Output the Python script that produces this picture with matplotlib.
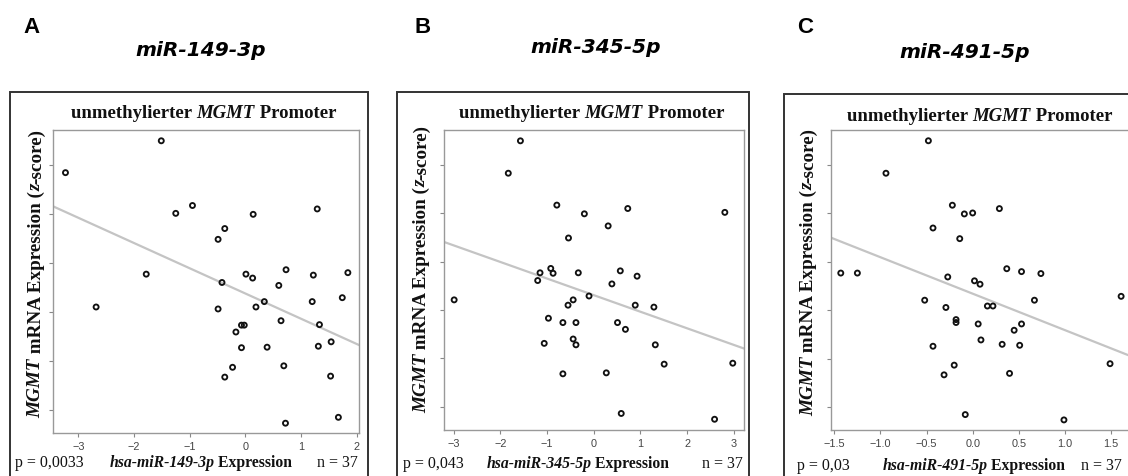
import matplotlib
matplotlib.use("Agg")
import matplotlib.pyplot as plt
import numpy as np
from matplotlib.patches import Rectangle

# ---------------- data ----------------
mir_names = ["miR-149-3p", "miR-345-5p", "miR-491-5p"]
panel_letters = ["A", "B", "C"]
p_values = ["p = 0,0033", "p = 0,043", "p = 0,03"]
n_labels = ["n = 37", "n = 37", "n = 37"]

x_a = [-3.23, -1.51, -2.68, -1.78, -1.25, -0.95, -0.37, -0.49, -0.42, -0.49,
       0.14, 0.01, 0.13, -0.07, -0.02, -0.17, -0.07, -0.23, -0.37, 0.19,
       0.34, 0.39, 0.60, 0.73, 0.64, 0.69, 0.72, 1.29, 1.22, 1.20,
       1.33, 1.31, 1.54, 1.53, 1.67, 1.74, 1.84]
y_a = [2.84, 3.49, 0.10, 0.77, 2.01, 2.17, 1.70, 1.48, 0.60, 0.06,
       1.99, 0.77, 0.69, -0.27, -0.27, -0.41, -0.73, -1.13, -1.33, 0.10,
       0.21, -0.72, 0.54, 0.86, -0.18, -1.10, -2.27, 2.10, 0.75, 0.21,
       -0.26, -0.70, -0.61, -1.31, -2.15, 0.29, 0.80]

x_b = [-2.99, -1.83, -1.57, -0.79, -1.20, -1.15, -0.92, -0.87, -0.97, -1.06,
       -0.66, -0.66, -0.54, -0.55, -0.44, -0.44, -0.38, -0.38, -0.33, -0.20,
       -0.10, 0.31, 0.27, 0.39, 0.57, 0.73, 0.51, 0.68, 0.59, 0.89,
       0.93, 1.29, 1.32, 1.51, 2.59, 2.81, 2.98]
y_b = [0.21, 2.83, 3.50, 2.17, 0.61, 0.77, 0.86, 0.76, -0.17, -0.69,
       -0.26, -1.32, 1.49, 0.10, 0.21, -0.60, -0.72, -0.26, 0.77, 1.99,
       0.29, 1.74, -1.30, 0.54, 0.81, 2.10, -0.26, -0.40, -2.14, 0.10,
       0.70, 0.06, -0.72, -1.12, -2.26, 2.02, -1.10]

x_c = [-1.43, -1.25, -0.94, -0.48, -0.52, -0.43, -0.43, -0.27, -0.29, -0.31,
       -0.22, -0.20, -0.18, -0.18, -0.14, -0.09, -0.08, 0.00, 0.02, 0.08,
       0.06, 0.09, 0.16, 0.22, 0.29, 0.32, 0.37, 0.40, 0.45, 0.53,
       0.53, 0.51, 0.67, 0.74, 0.99, 1.49, 1.61]
y_c = [0.77, 0.77, 2.83, 3.50, 0.21, 1.70, -0.74, 0.69, 0.06, -1.33,
       2.17, -1.13, -0.19, -0.25, 1.48, 1.99, -2.15, 2.01, 0.61, 0.54,
       -0.28, -0.61, 0.09, 0.09, 2.10, -0.70, 0.86, -1.30, -0.41, 0.80,
       -0.28, -0.72, 0.21, 0.76, -2.26, -1.10, 0.29]

fit_slopes = [-0.515, -0.343, -0.752]
fit_intercepts = [0.375, 0.308, 0.345]

x_ticks_a = [-3, -2, -1, 0, 1, 2]
x_ticks_b = [-3, -2, -1, 0, 1, 2, 3]
x_ticks_c = [-1.5, -1.0, -0.5, 0.0, 0.5, 1.0, 1.5]
y_ticks = [-2, -1, 0, 1, 2, 3]

xs = [x_a, x_b, x_c]
ys = [y_a, y_b, y_c]
xticks = [x_ticks_a, x_ticks_b, x_ticks_c]

# ---------------- layout (pixels) ----------------
W, H = 1128, 477
fig = plt.figure(figsize=(W / 100, H / 100), dpi=100)
renderer = fig.canvas.get_renderer()

def fx(x):
    return x / W

def fy(y):
    return 1 - y / H

axes_px = [(53, 131, 359, 434), (443.7, 131, 744.3, 430.7), (831, 131, 1132, 430.7)]
xlims = [(-3.454, 2.04), (-3.214, 3.227), (-1.536, 1.728)]
ylims = [(-2.47, 3.71), (-2.476, 3.724), (-2.462, 3.722)]
xtick_fmt = ["{:.0f}", "{:.0f}", "{:.1f}"]
box_px = [(10, 93), (396.7, 93), (784.3, 95)]
box_right = [368, 749.3, 1140]
letter_pos = [(23, 33), (414, 33), (797, 33)]
mir_pos = [(201, 55.5), (596, 53.3), (965, 58.3)]
title_pos = [(203.8, 118.3), (591.5, 118.3), (979.8, 120.7)]
ylabel_pos = [(40.7, 273.3), (426, 269), (813, 272)]
xlabel_pos = [(201, 466.7), (577.8, 467.7), (973.7, 470)]
p_pos = [(15, 466.7), (403, 467.7), (797, 470)]
n_pos = [(358, 466.7), (742.7, 467.7), (1122, 470)]

SERIF = "Liberation Serif"
SANS = "Liberation Sans"

def seg_width(s, size, **kw):
    t1 = fig.text(0, 0, "|" + s + "|", fontsize=size, **kw)
    t2 = fig.text(0, 0, "||", fontsize=size, **kw)
    w = t1.get_window_extent(renderer).width - t2.get_window_extent(renderer).width
    t1.remove(); t2.remove()
    return w

def rich(x, y, parts, size, align="center", rotation=0, color="#111111"):
    widths = [seg_width(s, size, **kw) for s, kw in parts]
    total = sum(widths)
    if rotation == 0:
        cur = x - total / 2 if align == "center" else (x if align == "left" else x - total)
        for (s, kw), w in zip(parts, widths):
            fig.text(fx(cur), fy(y), s, fontsize=size, ha="left", va="baseline",
                     color=color, **kw)
            cur += w
    else:
        cur = (H - y) - total / 2
        for (s, kw), w in zip(parts, widths):
            fig.text(fx(x), cur / H, s, fontsize=size, ha="left", va="baseline",
                     rotation=90, rotation_mode="anchor", color=color, **kw)
            cur += w

B = dict(family=SERIF, weight="bold")
BI = dict(family=SERIF, weight="bold", style="italic")
R = dict(family=SERIF)

for i in range(3):
    l, t, r, b = axes_px[i]
    ax = fig.add_axes([fx(l), fy(b), (r - l) / W, (b - t) / H])
    ax.set_xlim(*xlims[i])
    ax.set_ylim(*ylims[i])
    ax.scatter(xs[i], ys[i], s=13, facecolors="none", edgecolors="#111111",
               linewidths=1.35, zorder=3)
    xl = np.array(xlims[i])
    ax.plot(xl, fit_intercepts[i] + fit_slopes[i] * xl, color="#c4c4c4", lw=1.6, zorder=2)
    ax.set_xticks(xticks[i])
    ax.set_xticklabels([xtick_fmt[i].format(v).replace("-", "\u2212") for v in xticks[i]],
                       family=SANS, fontsize=7.8, color="#444444")
    ax.set_yticks(y_ticks)
    ax.set_yticklabels([])
    ax.tick_params(direction="out", length=3, width=0.8, color="#888888", pad=3)
    for sp in ax.spines.values():
        sp.set_color("#999999")
        sp.set_linewidth(1.0)

    bx, by = box_px[i]
    fig.patches.append(Rectangle((fx(bx), fy(H + 20)), (box_right[i] - bx) / W,
                                 (H + 20 - by) / H, transform=fig.transFigure,
                                 fill=False, edgecolor="#333333", lw=1.4))

    fig.text(fx(letter_pos[i][0]), fy(letter_pos[i][1]), panel_letters[i],
             family=SANS, weight="bold", fontsize=16, ha="left", va="baseline")
    fig.text(fx(mir_pos[i][0]), fy(mir_pos[i][1]), mir_names[i],
             family="DejaVu Sans", weight="bold", style="italic", fontsize=14.5,
             ha="center", va="baseline")

    rich(title_pos[i][0], title_pos[i][1],
         [("unmethylierter ", B), ("MGMT", BI), (" Promoter", B)], 13.5)
    rich(ylabel_pos[i][0], ylabel_pos[i][1],
         [("MGMT", BI), (" mRNA Expression (", B), ("z", BI), ("-score)", B)], 13.8,
         rotation=90)
    rich(xlabel_pos[i][0], xlabel_pos[i][1],
         [("hsa-" + mir_names[i], BI), (" Expression", B)], 11.3)
    rich(p_pos[i][0], p_pos[i][1], [(p_values[i], R)], 11.5, align="left")
    rich(n_pos[i][0], n_pos[i][1], [(n_labels[i], R)], 11.5, align="right")

fig.savefig("out.png", dpi=100)
